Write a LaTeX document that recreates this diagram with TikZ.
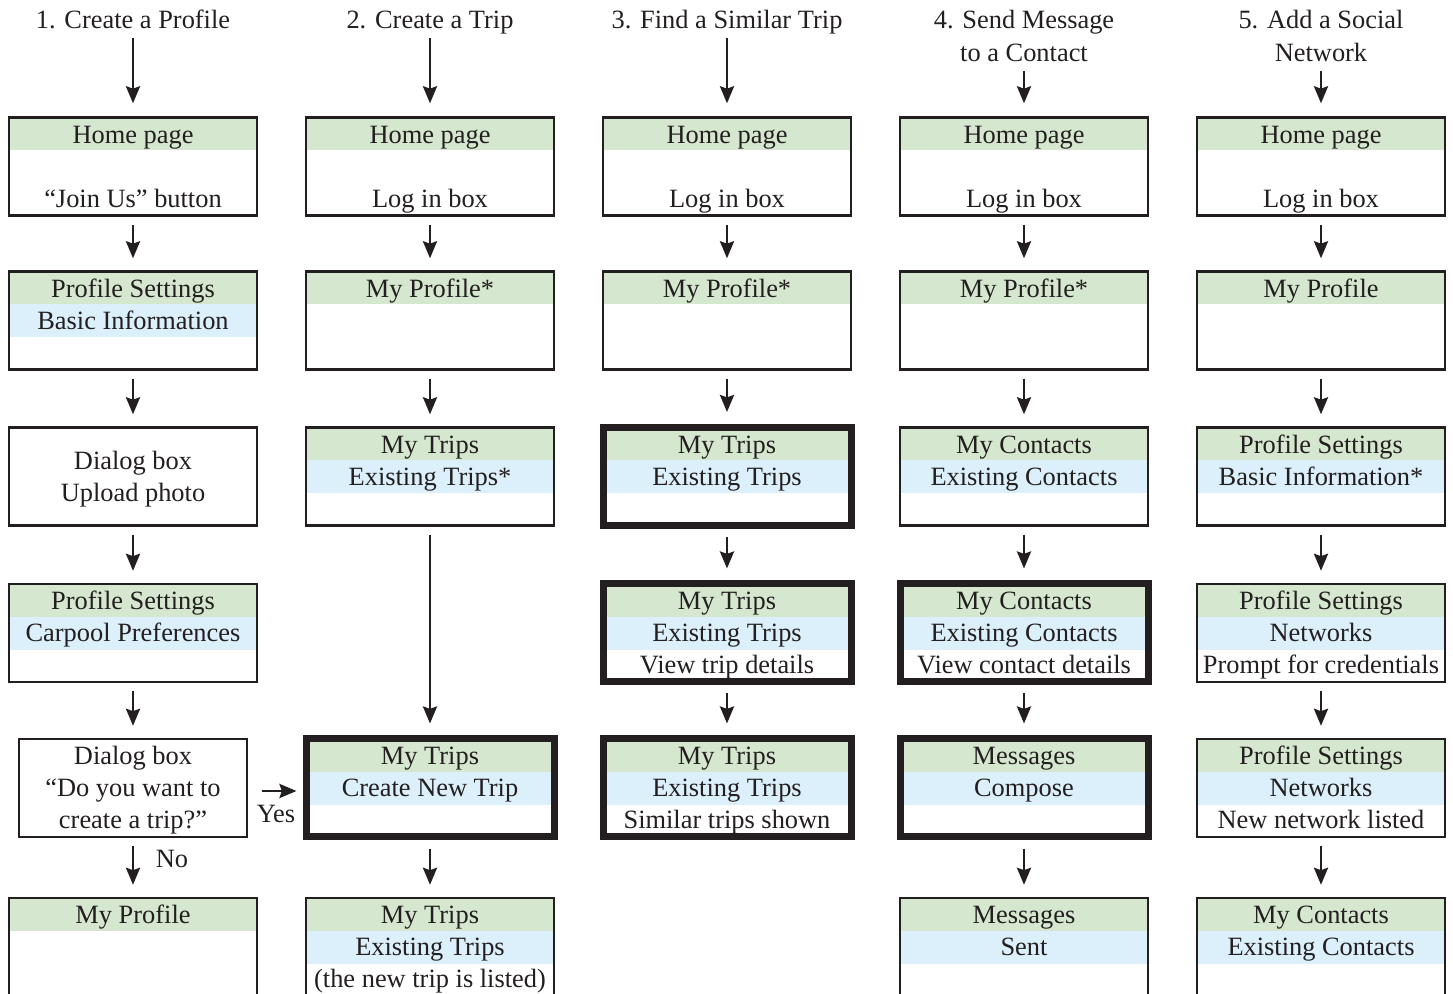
\documentclass[tikz,border=0pt]{standalone}
\usepackage{fontspec}
\setmainfont{Liberation Serif}
\usetikzlibrary{arrows.meta}
\definecolor{ink}{HTML}{231F20}
\definecolor{gfill}{HTML}{D5E8CF}
\definecolor{bfill}{HTML}{DBF0FA}
\tikzset{
 scr/.style={draw=ink, line width=1.2pt, fill=white, inner sep=0pt, minimum width=124pt, minimum height=49pt},
 thickbox/.style={scr, line width=3.5pt},
 gband/.style={path picture={\fill[gfill] (path picture bounding box.north west) rectangle ([yshift=-16.5pt]path picture bounding box.north east);}},
 gbband/.style={path picture={\fill[gfill] (path picture bounding box.north west) rectangle ([yshift=-16.5pt]path picture bounding box.north east);
   \fill[bfill] ([yshift=-16.5pt]path picture bounding box.north west) rectangle ([yshift=-33pt]path picture bounding box.north east);}},
 txt/.style={anchor=base, inner sep=0pt, text=ink, font=\fontsize{13.2pt}{16pt}\selectfont},
 arr/.style={draw=ink, line width=1.35pt, -{Stealth[length=8.5pt,width=7pt,inset=1.2pt]}, shorten <=4pt, shorten >=6pt},
}
% name, cx, top, line1, line2, line3
\newcommand{\cell}[6]{%
 \if\relax\detokenize{#4}\relax\else\node[txt] (#1a) at (#2,#3+25.5) {#4};\fi
 \if\relax\detokenize{#5}\relax\else\node[txt] (#1b) at (#2,#3+57.5) {#5};\fi
 \if\relax\detokenize{#6}\relax\else\node[txt] (#1c) at (#2,#3+89.5) {#6};\fi}
\begin{document}
\begin{tikzpicture}[x=0.5pt,y=-0.5pt]
\clip (0,0) rectangle (1453,994);
% titles
\node[txt] (t1) at (133,29) {1. Create a Profile};
\node[txt] (t2) at (430,29) {2. Create a Trip};
\node[txt] (t3) at (727,29) {3. Find a Similar Trip};
\node[txt] (t4) at (1024,29) {4. Send Message};
\node[txt] (t4b) at (1024,61.5) {to a Contact};
\node[txt] (t5) at (1321,29) {5. Add a Social};
\node[txt] (t5b) at (1321,61.5) {Network};
% column 1
\node[scr,gband] (b11) at (133,166.5) {}; \cell{b11}{133}{118}{Home page}{}{“Join Us” button}
\node[scr,gbband] (b12) at (133,320.5) {}; \cell{b12}{133}{272}{Profile Settings}{Basic Information}{}
\node[scr] (b13) at (133,476.5) {};
\node[txt] (b13a) at (133,469.5) {Dialog box};
\node[txt] (b13b) at (133,501.5) {Upload photo};
\node[scr,gbband] (b14) at (133,633) {}; \cell{b14}{133}{584}{Profile Settings}{Carpool Preferences}{}
\node[scr,minimum width=114pt] (b15) at (133,788) {}; \cell{b15}{133}{739}{Dialog box}{“Do you want to}{create a trip?”}
\node[scr,gband,minimum height=60pt] (b16) at (133,958) {}; \cell{b16}{133}{898}{My Profile}{}{}
% column 2
\node[scr,gband] (b21) at (430,166.5) {}; \cell{b21}{430}{118}{Home page}{}{Log in box}
\node[scr,gband] (b22) at (430,320.5) {}; \cell{b22}{430}{272}{My Profile*}{}{}
\node[scr,gbband] (b23) at (430,476.5) {}; \cell{b23}{430}{428}{My Trips}{Existing Trips*}{}
\node[thickbox,gbband] (b25) at (430,788) {}; \cell{b25}{430}{739}{My Trips}{Create New Trip}{}
\node[scr,gbband,minimum height=60pt] (b26) at (430,958) {}; \cell{b26}{430}{898}{My Trips}{Existing Trips}{(the new trip is listed)}
% column 3
\node[scr,gband] (b31) at (727,166.5) {}; \cell{b31}{727}{118}{Home page}{}{Log in box}
\node[scr,gband] (b32) at (727,320.5) {}; \cell{b32}{727}{272}{My Profile*}{}{}
\node[thickbox,gbband] (b33) at (727,476.5) {}; \cell{b33}{727}{428}{My Trips}{Existing Trips}{}
\node[thickbox,gbband] (b34) at (727,633) {}; \cell{b34}{727}{584}{My Trips}{Existing Trips}{View trip details}
\node[thickbox,gbband] (b35) at (727,788) {}; \cell{b35}{727}{739}{My Trips}{Existing Trips}{Similar trips shown}
% column 4
\node[scr,gband] (b41) at (1024,166.5) {}; \cell{b41}{1024}{118}{Home page}{}{Log in box}
\node[scr,gband] (b42) at (1024,320.5) {}; \cell{b42}{1024}{272}{My Profile*}{}{}
\node[scr,gbband] (b43) at (1024,476.5) {}; \cell{b43}{1024}{428}{My Contacts}{Existing Contacts}{}
\node[thickbox,gbband] (b44) at (1024,633) {}; \cell{b44}{1024}{584}{My Contacts}{Existing Contacts}{View contact details}
\node[thickbox,gbband] (b45) at (1024,788) {}; \cell{b45}{1024}{739}{Messages}{Compose}{}
\node[scr,gbband,minimum height=60pt] (b46) at (1024,958) {}; \cell{b46}{1024}{898}{Messages}{Sent}{}
% column 5
\node[scr,gband] (b51) at (1321,166.5) {}; \cell{b51}{1321}{118}{Home page}{}{Log in box}
\node[scr,gband] (b52) at (1321,320.5) {}; \cell{b52}{1321}{272}{My Profile}{}{}
\node[scr,gbband] (b53) at (1321,476.5) {}; \cell{b53}{1321}{428}{Profile Settings}{Basic Information*}{}
\node[scr,gbband] (b54) at (1321,633) {}; \cell{b54}{1321}{584}{Profile Settings}{Networks}{Prompt for credentials}
\node[scr,gbband] (b55) at (1321,788) {}; \cell{b55}{1321}{739}{Profile Settings}{Networks}{New network listed}
\node[scr,gbband,minimum height=60pt] (b56) at (1321,958) {}; \cell{b56}{1321}{898}{My Contacts}{Existing Contacts}{}
% title arrows
\foreach \a/\b in {t1/b11,t2/b21,t3/b31,t4b/b41,t5b/b51}
  \draw[arr, shorten <=4.75pt, shorten >=6.5pt] (\a.base) -- (\b.north);
% box arrows
\foreach \a/\b in {b11/b12,b12/b13,b13/b14,b14/b15,b15/b16,
                   b21/b22,b22/b23,b23/b25,b25/b26,
                   b31/b32,b32/b33,b33/b34,b34/b35,
                   b41/b42,b42/b43,b43/b44,b44/b45,b45/b46,
                   b51/b52,b52/b53,b53/b54,b54/b55,b55/b56}
  \draw[arr] (\a) -- (\b);
% yes / no
\draw[arr, shorten <=7pt, shorten >=3pt] ([yshift=-1.5pt]b15.east) -- ([yshift=-1.5pt]b25.west);
\node[txt] (yes) at (276,822.5) {Yes};
\node[txt] (no) at (172,867.5) {No};
\end{tikzpicture}
\end{document}
